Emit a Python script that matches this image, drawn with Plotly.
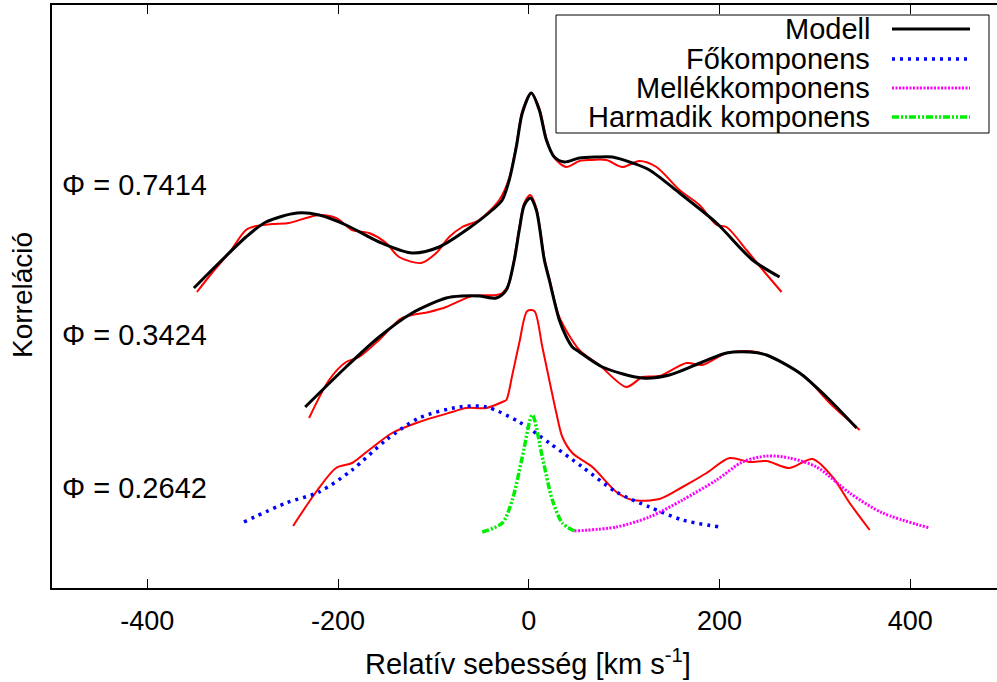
import plotly.graph_objects as go

# ---------------- data ----------------
# Phi = 0.7414 (top)
top_obs_v = [-348.0, -332.3, -314.4, -296.6, -286.1, -269.3, -251.5, -233.6, -219.9, -202.1, -185.3, -167.5,
             -149.6, -136.0, -112.9, -97.1, -83.5, -69.8, -52.0, -31.0, -20.5, -13.1, -6.8, 2.6, 11.0, 18.4,
             26.8, 39.4, 53.0, 63.5, 81.4, 98.2, 116.0, 133.9, 158.0, 179.0, 196.9, 207.3, 228.3, 247.2, 265.1]
top_obs_c = [2.96, 3.15, 3.35, 3.58, 3.62, 3.64, 3.65, 3.70, 3.73, 3.70, 3.58, 3.55,
             3.45, 3.31, 3.25, 3.35, 3.51, 3.61, 3.68, 3.88, 4.10, 4.43, 4.77, 4.95, 4.80, 4.50,
             4.30, 4.21, 4.27, 4.28, 4.28, 4.21, 4.27, 4.21, 3.98, 3.83, 3.63, 3.61, 3.38, 3.16, 2.96]
top_mod_v = [-351.2, -324.9, -296.6, -275.6, -243.0, -219.9, -191.6, -157.0, -122.3, -94.0, -62.5, -38.3,
             -27.8, -20.5, -13.1, -6.8, 2.6, 11.0, 18.4, 26.8, 37.3, 53.0, 70.9, 87.7, 108.7, 126.5,
             158.0, 196.9, 234.6, 263.0]
top_mod_c = [3.00, 3.25, 3.51, 3.66, 3.75, 3.73, 3.63, 3.46, 3.35, 3.41, 3.60, 3.78,
             3.88, 4.08, 4.41, 4.75, 4.95, 4.78, 4.48, 4.31, 4.26, 4.30, 4.31, 4.31, 4.25, 4.18,
             3.95, 3.65, 3.28, 3.11]

# Phi = 0.3424 (middle)
mid_obs_v = [-230.4, -209.4, -191.6, -178.0, -157.0, -132.8, -104.5, -86.6, -59.3, -34.1, -27.8, -20.5,
             -15.2, -10.0, -4.7, 1.6, 7.9, 16.3, 21.5, 32.0, 53.0, 74.0, 102.4, 119.2, 137.0, 165.4,
             182.2, 207.3, 238.8, 276.6, 291.3, 315.5, 347.0]
mid_obs_c = [1.70, 2.08, 2.26, 2.31, 2.48, 2.70, 2.76, 2.81, 2.92, 2.93, 2.95, 3.05,
             3.30, 3.60, 3.85, 3.93, 3.80, 3.30, 3.10, 2.71, 2.38, 2.23, 2.01, 2.11, 2.12, 2.25,
             2.23, 2.35, 2.36, 2.20, 2.10, 1.85, 1.58]
mid_mod_v = [-234.5, -191.6, -157.0, -122.3, -86.6, -69.8, -52.0, -34.1, -23.6, -15.2, -10.0, -4.7,
             1.6, 7.9, 16.3, 21.5, 32.0, 39.4, 45.7, 53.0, 77.2, 119.2, 147.5, 182.2, 207.3, 231.5,
             249.3, 284.0, 312.3, 343.8]
mid_mod_c = [1.81, 2.21, 2.51, 2.75, 2.90, 2.92, 2.92, 2.90, 2.98, 3.28, 3.58, 3.83,
             3.90, 3.78, 3.28, 3.08, 2.68, 2.51, 2.41, 2.36, 2.21, 2.10, 2.13, 2.26, 2.35, 2.36,
             2.33, 2.15, 1.91, 1.60]

# Phi = 0.2642 (bottom)
bot_obs_v = [-247.2, -223.1, -202.1, -185.3, -167.5, -143.3, -115.0, -80.3, -65.6, -44.6, -27.8, -23.6,
             -17.3, -10.0, -1.6, 5.8, 14.2, 28.9, 35.2, 45.7, 66.7, 91.9, 108.7, 137.0, 161.2, 186.4,
             210.5, 231.5, 249.3, 273.5, 297.6, 318.6, 336.5, 357.5]
bot_obs_c = [0.62, 0.96, 1.20, 1.25, 1.38, 1.55, 1.66, 1.76, 1.80, 1.80, 1.86, 1.88,
             2.13, 2.45, 2.77, 2.77, 2.41, 1.75, 1.51, 1.35, 1.21, 0.96, 0.88, 0.89, 1.01, 1.15,
             1.30, 1.26, 1.27, 1.20, 1.29, 1.11, 0.85, 0.58]
fo_v = [-298.7, -254.6, -219.9, -185.3, -149.6, -115.0, -73.0, -44.6, -10.0, 21.5, 56.2, 91.9, 126.5, 161.2, 200.0]
fo_c = [0.66, 0.85, 0.96, 1.18, 1.48, 1.70, 1.81, 1.81, 1.66, 1.45, 1.21, 0.96, 0.81, 0.68, 0.61]
mel_v = [47.8, 91.9, 126.5, 161.2, 196.9, 224.1, 249.3, 273.5, 301.8, 336.5, 371.1, 420.5]
mel_c = [0.57, 0.61, 0.71, 0.88, 1.08, 1.26, 1.32, 1.30, 1.21, 0.95, 0.75, 0.60]
har_v = [-48.8, -27.8, -17.3, -6.8, 3.7, 14.2, 24.7, 35.2, 47.8]
har_c = [0.56, 0.65, 0.88, 1.31, 1.73, 1.31, 0.88, 0.65, 0.57]

phase_labels = ["Φ = 0.7414", "Φ = 0.3424", "Φ = 0.2642"]
legend_names = ["Modell", "Főkomponens", "Mellékkomponens", "Harmadik komponens"]
x_ticks = [-400, -200, 0, 200, 400]

# ---------------- styling ----------------
FONT = "Liberation Sans, Arial, sans-serif"
W, H = 997, 682
ML, MR, MT, MB = 52, 0, 5, 94
PW, PH = W - ML - MR, H - MT - MB

def px(x):
    return (x - ML) / PW

def py(y):
    return (H - MB - y) / PH

RED = dict(color="#ff0000", width=2)
BLACK = dict(color="#000000", width=3)
BLUE = dict(color="#0000ff", width=3.5, dash="3px,5px")
MAG = dict(color="#ff00ff", width=3, dash="2px,1.5px")
GREEN = dict(color="#00ee00", width=3.5, dash="7px,2px,2px,2px,2px,2px")

fig = go.Figure()
for v, c in [(top_obs_v, top_obs_c), (mid_obs_v, mid_obs_c), (bot_obs_v, bot_obs_c)]:
    fig.add_trace(go.Scatter(x=v, y=c, mode="lines", line=dict(**RED, shape="spline", smoothing=0.8),
                             showlegend=False, hoverinfo="skip"))
for v, c in [(top_mod_v, top_mod_c), (mid_mod_v, mid_mod_c)]:
    fig.add_trace(go.Scatter(x=v, y=c, mode="lines", line=dict(**BLACK, shape="spline", smoothing=0.8),
                             showlegend=False, hoverinfo="skip"))
fig.add_trace(go.Scatter(x=fo_v, y=fo_c, mode="lines", line=dict(**BLUE, shape="spline", smoothing=0.8),
                         showlegend=False))
fig.add_trace(go.Scatter(x=mel_v, y=mel_c, mode="lines", line=dict(**MAG, shape="spline", smoothing=0.8),
                         showlegend=False))
fig.add_trace(go.Scatter(x=har_v, y=har_c, mode="lines", line=dict(**GREEN, shape="spline", smoothing=0.8),
                         showlegend=False))

# manual legend (text right, sample left as in gnuplot)
shapes = [dict(type="rect", xref="paper", yref="paper", x0=px(556), x1=px(989), y0=py(133), y1=py(15),
               line=dict(color="black", width=1), fillcolor="white", layer="above")]
annotations = []
row_y = [29, 59, 88, 117]
styles = [BLACK, BLUE, MAG, GREEN]
for name, yy, st in zip(legend_names, row_y, styles):
    annotations.append(dict(text=name, xref="paper", yref="paper", x=px(872), y=py(yy),
                            xanchor="right", yanchor="middle", showarrow=False,
                            font=dict(family=FONT, size=29, color="black")))
    shapes.append(dict(type="line", xref="paper", yref="paper", x0=px(892), x1=px(970),
                       y0=py(yy), y1=py(yy), line=st, layer="above"))

for lab, yy in zip(phase_labels, [185, 335, 488]):
    annotations.append(dict(text=lab, xref="paper", yref="paper", x=px(60), y=py(yy),
                            xanchor="left", yanchor="middle", showarrow=False,
                            font=dict(family=FONT, size=29, color="black")))

annotations.append(dict(text="Relatív sebesség [km s<sup>-1</sup>]", xref="paper", yref="paper",
                        x=px(528), y=py(662), xanchor="center", yanchor="middle", showarrow=False,
                        font=dict(family=FONT, size=29, color="black")))
annotations.append(dict(text="Korreláció", xref="paper", yref="paper", x=px(22), y=py(295),
                        xanchor="center", yanchor="middle", showarrow=False, textangle=-90,
                        font=dict(family=FONT, size=28, color="black")))

fig.update_layout(
    width=W, height=H, margin=dict(l=ML, r=MR, t=MT, b=MB),
    paper_bgcolor="white", plot_bgcolor="white",
    shapes=shapes, annotations=annotations, showlegend=False,
    xaxis=dict(range=[-500, 491], tickvals=x_ticks, ticktext=[str(t) for t in x_ticks],
               ticks="inside", ticklen=9, tickwidth=1, tickcolor="black",
               showline=True, linecolor="black", linewidth=1.5, mirror="ticks",
               showgrid=False, zeroline=False, ticklabelstandoff=8,
               tickfont=dict(family=FONT, size=27, color="black")),
    yaxis=dict(range=[0, 5.83], showticklabels=False, ticks="", showline=True, linecolor="black",
               linewidth=1.5, mirror=False, showgrid=False, zeroline=False),
)

fig.write_html("out.html")
